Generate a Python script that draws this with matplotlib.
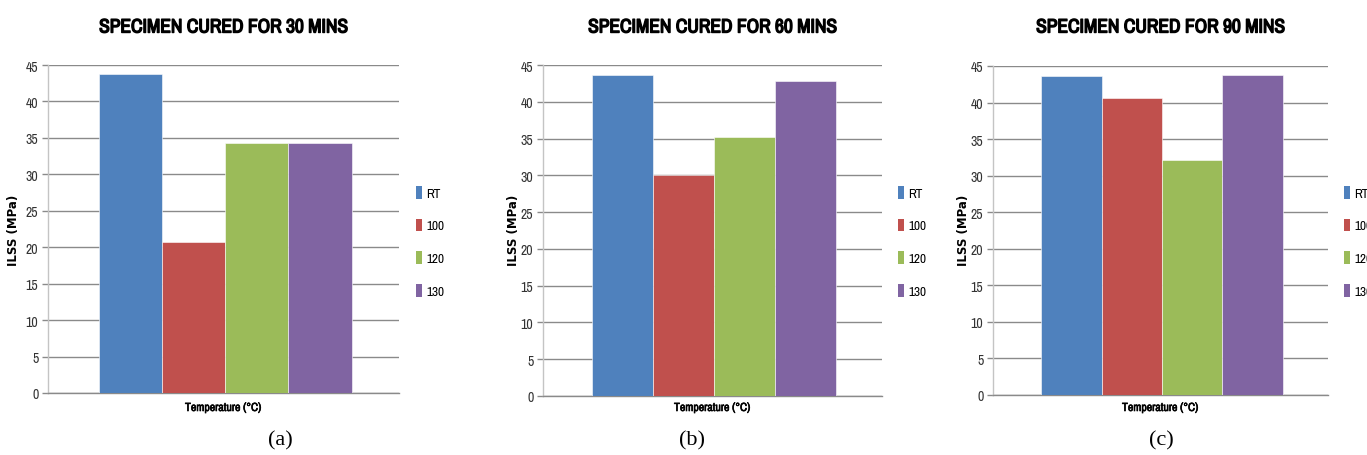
import matplotlib
matplotlib.use("Agg")
import matplotlib.pyplot as plt
import matplotlib.patheffects as pe
from matplotlib import font_manager
from matplotlib.patches import Patch

# ILSS (MPa) at each test temperature, for three cure times
series_labels = ["RT", "100", "120", "130"]
cure_titles = ["SPECIMEN CURED FOR 30 MINS",
               "SPECIMEN CURED FOR 60 MINS",
               "SPECIMEN CURED FOR 90 MINS"]
captions = ["(a)", "(b)", "(c)"]
ilss_30 = [43.7, 20.7, 34.3, 34.3]
ilss_60 = [43.6, 30.0, 35.2, 42.8]
ilss_90 = [43.7, 40.6, 32.1, 43.8]
y_ticks = [0, 5, 10, 15, 20, 25, 30, 35, 40, 45]

colors = ["#4F81BD", "#C0504D", "#9BBB59", "#8064A2"]

# prefer a condensed sans face for the chart text if one is installed
entries = font_manager.fontManager.ttflist
cond_names = sorted({f.name for f in entries
                     if any(w in f.name for w in ("Condensed", "Narrow"))})
cond_stretch = sorted({f.name for f in entries
                       if str(f.stretch) in ("condensed", "semi-condensed",
                                             "extra-condensed")})
if cond_names:
    narrow = {"family": [cond_names[0], "DejaVu Sans"]}
elif cond_stretch:
    narrow = {"family": [cond_stretch[0], "DejaVu Sans"],
              "stretch": "condensed"}
else:
    narrow = {"family": ["Liberation Sans", "DejaVu Sans"]}
serif = ["Liberation Serif", "DejaVu Serif"]

# thicken strokes for the heavy headings
heavy = [pe.withStroke(linewidth=1.0, foreground="black")]
semi = [pe.withStroke(linewidth=0.45, foreground="black")]

W, H = 1367, 456
fig = plt.figure(figsize=(W / 100, H / 100), dpi=100)

# axes boxes in pixels: left, top, right, bottom
boxes = [(48, 66, 399, 394), (543, 66, 882, 397), (993, 67, 1328, 396)]
legend_x = [416, 898, 1344]
ylabel_x = [14, 513, 963]
caption_x = [280, 692, 1161]

for k, (vals, box) in enumerate(zip([ilss_30, ilss_60, ilss_90], boxes)):
    l, t, r, b = box
    ax = fig.add_axes([l / W, 1 - b / H, (r - l) / W, (b - t) / H])
    xs = range(len(vals))
    ax.bar(xs, vals, width=1.0, color=colors, edgecolor="white",
           linewidth=0.4, zorder=3)
    ax.set_xlim(-1.3, 4.25)
    ax.set_ylim(0, 45)
    ax.set_yticks(y_ticks)
    ax.set_yticklabels([str(v) for v in y_ticks], fontsize=10,
                       color="#333333", **narrow)
    ax.set_xticks([])
    ax.grid(axis="y", color="#8a8a8a", linewidth=1.0, zorder=0)
    ax.tick_params(axis="y", length=4, width=1.0, color="#8a8a8a", pad=3)
    for s in ["top", "right"]:
        ax.spines[s].set_visible(False)
    ax.spines["left"].set_color("#c4c4c4")
    ax.spines["left"].set_linewidth(1.0)
    ax.spines["bottom"].set_color("#8a8a8a")
    ax.spines["bottom"].set_linewidth(1.0)

    # title and axis labels
    fig.text((l + r) / 2 / W, 1 - 28 / H, cure_titles[k], ha="center",
             va="center", fontweight="bold", fontsize=14, color="black",
             path_effects=heavy, **narrow)
    fig.text(ylabel_x[k] / W, 1 - 230 / H, "ILSS (MPa)", rotation=90,
             ha="center", va="center", fontweight="bold", fontsize=8.5,
             family=["DejaVu Sans"])
    fig.text((l + r) / 2 / W, 1 - 409 / H, "Temperature (°C)",
             ha="center", va="center", fontweight="bold", fontsize=8.5,
             path_effects=semi, **narrow)
    fig.text(caption_x[k] / W, 1 - 441 / H, captions[k], ha="center",
             va="center", family=serif, fontsize=16)

    handles = [Patch(facecolor=c, edgecolor="none") for c in colors]
    prop = {"size": 9.5, "family": narrow["family"]}
    if "stretch" in narrow:
        prop["stretch"] = narrow["stretch"]
    fig.legend(handles, series_labels, loc="upper left",
               bbox_to_anchor=(legend_x[k] / W, 1 - 187 / H),
               frameon=False, prop=prop,
               handlelength=0.45, handleheight=1.1, handletextpad=0.35,
               labelspacing=1.5, borderpad=0, borderaxespad=0)

fig.savefig("out.png", dpi=100)
